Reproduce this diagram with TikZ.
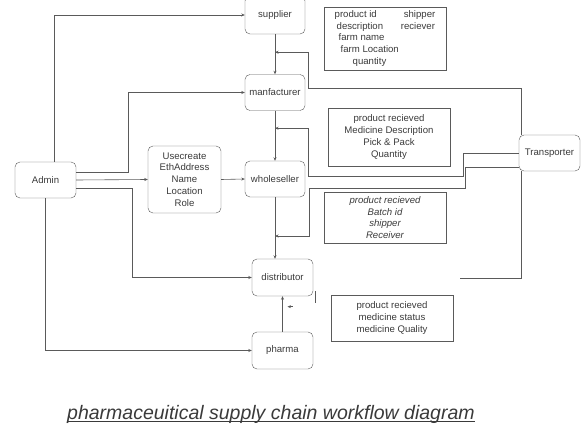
\documentclass[tikz,border=0pt]{standalone}
\usepackage{fontspec}
\setmainfont{Liberation Sans}
\usepackage{xcolor}
\usepackage{tikz}
\usetikzlibrary{arrows.meta}
\usetikzlibrary{calc}

\definecolor{linegray}{HTML}{5A5A5A}
\definecolor{textgray}{HTML}{3A3A3A}

\begin{document}
\begin{tikzpicture}[x = 1pt, y = -1pt,
	entity/.style = {draw = linegray, rounded corners = 5pt, minimum width = 60pt, minimum height = 36pt, inner sep = 0pt, text = textgray, font = \fontsize{9.6}{11.8}\selectfont, align = center},
	infobox/.style = {draw = linegray, minimum width = 122pt, inner sep = 0pt, text = textgray, font = \fontsize{9.6}{11.8}\selectfont, align = center},
	wire/.style = {draw = linegray, line width = 0.6pt},
	arr/.style = {wire, -{Stealth[length = 3.5pt, width = 3pt]}}]
	\useasboundingbox (0,0) rectangle (585,427);
	\node[entity, minimum height = 38pt] (supplier) at (275,15) {supplier};
	\node[entity] (manf) at (275,92.5) {manfacturer};
	\node[entity] (whole) at (275,179) {wholeseller};
	\node[entity, minimum width = 73pt, minimum height = 67pt] (user) at (184.5,179.5) {Usecreate\\EthAddress\\Name\\Location\\Role};
	\node[entity, minimum width = 61pt] (admin) at (45.5,180) {Admin};
	\node[entity, minimum width = 61pt, minimum height = 37pt] (dist) at (282.5,277.5) {distributor};
	\node[entity, minimum width = 61pt, minimum height = 37pt] (pharma) at (282.5,350.5) {pharma};
	\node[entity, minimum width = 61pt] (trans) at (549.5,153) {Transporter};
	\node[infobox, minimum height = 63pt] (farminfo) at (385,38.5) {\begin{tabular}{@{}l@{\hspace{2pt}}l@{}}
		product id & \hspace{3pt}shipper\\
		\hspace{2pt}description & reciever\\
		\hspace{4pt}farm name & \\
		\hspace{6pt}farm Location & \\
		\hspace{18pt}quantity &
	\end{tabular}};
	\node[infobox, minimum height = 58pt] (manfinfo) at (389,137) {product recieved\\Medicine Description\\Pick \& Pack\\Quantity};
	\node[infobox, minimum height = 51pt, font = \fontsize{9.6}{11.8}\selectfont\itshape] (wholeinfo) at (385,217.5) {product recieved\\Batch id\\shipper\\Receiver};
	\node[infobox, minimum height = 46pt] (distinfo) at (392,318) {product recieved\\medicine status\\medicine Quality};
	\coordinate (s2m) at ($(supplier.south)!0.45!(manf.north)$);
	\coordinate (m2w) at ($(manf.south)!0.35!(whole.north)$);
	\coordinate (w2d) at ($(whole.south)!0.63!(whole.south |- dist.north)$);
	\coordinate (tend) at (460,278);
	\foreach \a/\b in {supplier/manf, manf/whole}
		\draw[arr] (\a) -- (\b);
	\draw[arr] (whole.south) -- (whole.south |- dist.north);
	\draw[arr] (pharma.north) -- (dist.south);
	\draw[arr] (user.east) -- (whole.west);
	\draw[arr] ([xshift = 8.5pt]admin.north) |- (supplier.west);
	\draw[arr] ([yshift = 8pt]admin.east) -- ++(52,0) |- (manf.west);
	\draw[arr] (admin.east) -- (user.west);
	\draw[arr] ([yshift = -8pt]admin.east) -- ++(56,0) |- (dist.west);
	\draw[arr] (admin.south) |- (pharma.west);
	\draw[arr] ([xshift = 2pt]trans.north west) |- ([xshift = 3pt, yshift = 4.5pt]manf.east) |- (s2m);
	\draw[wire] (tend) -| ([xshift = 2pt]trans.south west);
	\draw[arr] (trans.west) -- ++(-56,0) |- ([xshift = 3pt, yshift = 3pt]whole.east) |- (m2w);
	\draw[arr] ([yshift = -14pt]trans.west) -- ++(-54,0) |- ([xshift = 4pt, yshift = -9pt]whole.east) |- (w2d);
	\draw[arr] ([xshift = 10pt, yshift = -10.5pt]dist.south) -- ++(-5,0);
	\draw[wire, line width = 0.4pt] ([xshift = 2pt, yshift = 5pt]dist.south east) -- ++(0,12);
	\node[anchor = base west, inner sep = 0pt, text = textgray, font = \fontsize{19.5}{22}\selectfont\itshape] (title) at (67,419) {pharmaceuitical supply chain workflow diagram};
	\draw[textgray, line width = 0.8pt] ([yshift = -2pt]title.base west) -- ([yshift = -2pt]title.base east);
\end{tikzpicture}
\end{document}
